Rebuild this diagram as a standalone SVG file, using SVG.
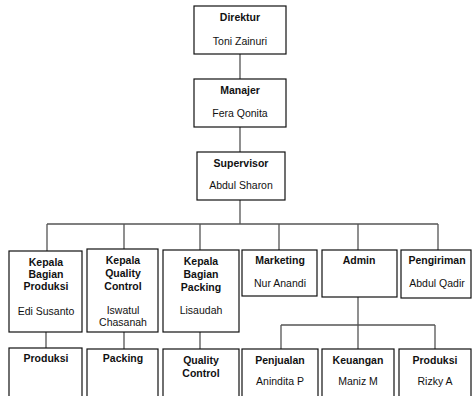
<svg xmlns="http://www.w3.org/2000/svg" width="473" height="396" viewBox="0 0 473 396">
<style>
.box{fill:#fff;stroke:#111;stroke-width:1.2}
.c{fill:none;stroke:#555;stroke-width:1.3}
text{font-family:"Liberation Sans",Arial,sans-serif;font-size:10.5px;fill:#111;text-anchor:middle}
.b{font-weight:bold}
</style>
<rect width="473" height="396" fill="#fff"/>
<g id="connectors">
<path class="c" d="M240 54V79M240 127V152M240 200V224M47 224H438M47 224V251M124 224V249M200 224V250M279 224V250M358 224V250M438 224V250"/>
<path class="c" d="M46 332V348M124 332V349M200 332V349"/>
<path class="c" d="M358 297V325M281 325H435M281 325V349M358 325V349M435 325V349"/>
</g>
<g id="direktur"><rect class="box" x="194" y="6" width="92" height="48"/><text class="b" x="240" y="21">Direktur</text><text x="240" y="45">Toni Zainuri</text></g>
<g id="manajer"><rect class="box" x="194" y="79" width="92" height="48"/><text class="b" x="240" y="94">Manajer</text><text x="240" y="117">Fera Qonita</text></g>
<g id="supervisor"><rect class="box" x="197" y="152" width="88" height="48"/><text class="b" x="241" y="167">Supervisor</text><text x="241" y="189">Abdul Sharon</text></g>
<g id="kbp"><rect class="box" x="9" y="251" width="73" height="81"/><text class="b" x="46" y="266">Kepala</text><text class="b" x="46" y="278">Bagian</text><text class="b" x="46" y="290">Produksi</text><text x="46" y="315">Edi Susanto</text></g>
<g id="kqc"><rect class="box" x="87" y="249" width="71" height="83"/><text class="b" x="123" y="264">Kepala</text><text class="b" x="123" y="277">Quality</text><text class="b" x="123" y="290">Control</text><text x="123" y="314">Iswatul</text><text x="123" y="326">Chasanah</text></g>
<g id="kbpk"><rect class="box" x="163" y="250" width="76" height="82"/><text class="b" x="201" y="265">Kepala</text><text class="b" x="201" y="278">Bagian</text><text class="b" x="201" y="291">Packing</text><text x="201" y="314">Lisaudah</text></g>
<g id="marketing"><rect class="box" x="242" y="250" width="75" height="46"/><text class="b" x="280" y="264">Marketing</text><text x="280" y="287">Nur Anandi</text></g>
<g id="admin"><rect class="box" x="322" y="250" width="75" height="47"/><text class="b" x="359" y="264">Admin</text></g>
<g id="pengiriman"><rect class="box" x="401" y="250" width="70" height="48"/><text class="b" x="437" y="264">Pengiriman</text><text x="437" y="287">Abdul Qadir</text></g>
<g id="produksi"><rect class="box" x="9" y="348" width="73" height="60"/><text class="b" x="46" y="362">Produksi</text></g>
<g id="packing"><rect class="box" x="87" y="349" width="71" height="60"/><text class="b" x="123" y="362">Packing</text></g>
<g id="qc"><rect class="box" x="163" y="349" width="76" height="60"/><text class="b" x="201" y="364">Quality</text><text class="b" x="201" y="377">Control</text></g>
<g id="penjualan"><rect class="box" x="242" y="349" width="76" height="60"/><text class="b" x="280" y="364">Penjualan</text><text x="280" y="385">Anindita P</text></g>
<g id="keuangan"><rect class="box" x="322" y="349" width="72" height="60"/><text class="b" x="358" y="364">Keuangan</text><text x="358" y="385">Maniz M</text></g>
<g id="produksi2"><rect class="box" x="399" y="349" width="72" height="60"/><text class="b" x="435" y="364">Produksi</text><text x="435" y="385">Rizky A</text></g>
</svg>
